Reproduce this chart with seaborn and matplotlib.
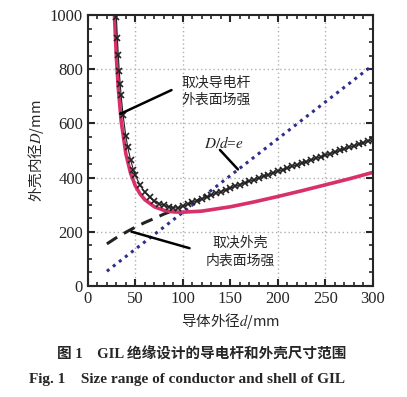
import numpy as np
import pandas as pd
import matplotlib
matplotlib.use("Agg")
import matplotlib.pyplot as plt
from matplotlib.ticker import MultipleLocator
import seaborn as sns

# 数据
red_d = [28, 30, 32, 35, 40, 45, 50, 55, 60, 70, 80, 90, 100, 120, 150, 175, 200, 225, 250, 275, 300]
red_D = [995, 841, 730, 609, 487, 415, 369, 339, 318, 292, 279, 273, 272, 276, 292, 310, 330, 351, 373, 395, 419]

blue_d = [20, 300]
blue_D = [54, 815]

dash_d = [20, 30, 40, 50, 60, 70, 80, 90]
dash_D = [155, 178, 198, 217, 234, 249, 265, 279]

cross_d = [30, 31, 32, 33, 34, 35, 37, 40, 42, 45, 48, 50, 55, 60, 65, 70, 75, 80, 85, 90, 95,
           100, 105, 110, 115, 120, 125, 130, 135, 140, 145, 150, 155, 160, 165, 170, 175, 180, 185,
           190, 195, 200, 205, 210, 215, 220, 225, 230, 235, 240, 245, 250, 255, 260, 265, 270,
           275, 280, 285, 290, 295, 300]
cross_D = [993, 917, 851, 795, 746, 703, 632, 552, 512, 464, 428, 408, 371, 345, 327, 314, 304, 297, 292, 289, 287,
           294, 301, 308, 315, 322, 328, 335, 342, 348, 355, 361, 368, 374, 380, 386, 392, 398, 405,
           411, 417, 423, 429, 435, 441, 447, 453, 459, 465, 471, 476, 482, 488, 494, 500, 506,
           511, 517, 523, 529, 534, 540]

sns.set_style("ticks")
plt.rcParams['font.family'] = ['Liberation Serif', 'Noto Sans CJK SC']
plt.rcParams['mathtext.fontset'] = 'stix'
cjk = ['Noto Sans CJK SC', 'DejaVu Sans']

fig = plt.figure(figsize=(4.07, 3.97), dpi=100)
ax = fig.add_axes([0.216, 0.280, 0.700, 0.682])

# 网格
for gx in [50, 100, 200, 250]:
    ax.axvline(gx, color='#b0b0b0', ls=(0, (1, 2)), lw=1, zorder=0)
for gy in [200, 400, 600, 800]:
    ax.axhline(gy, color='#b0b0b0', ls=(0, (1, 2)), lw=1, zorder=0)

sns.lineplot(x=blue_d, y=blue_D, ax=ax, color='#2e2e8c', lw=2.2, ls=(0, (1, 1.5)), sort=False)
sns.lineplot(x=dash_d, y=dash_D, ax=ax, color='#222222', lw=2.2, ls=(0, (4, 2.5)), sort=False)
sns.lineplot(x=red_d, y=red_D, ax=ax, color='#d8306a', lw=2.6, sort=False)
sns.lineplot(x=cross_d, y=cross_D, ax=ax, color='#222222', lw=0.8, ls='-', marker='x',
             markersize=4, markeredgewidth=1.2, markeredgecolor='#222222', sort=False)

ax.set_xlim(0, 300)
ax.set_ylim(0, 1000)
ax.xaxis.set_major_locator(MultipleLocator(50))
ax.xaxis.set_minor_locator(MultipleLocator(10))
ax.yaxis.set_major_locator(MultipleLocator(200))
ax.yaxis.set_minor_locator(MultipleLocator(50))
ax.tick_params(which='both', direction='in', top=True, right=True, labelsize=12)
ax.tick_params(which='major', length=5, width=1.5)
ax.tick_params(which='minor', length=3, width=1.2)
for s in ax.spines.values():
    s.set_linewidth(1.5)

ax.set_xlabel('导体外径$d$/mm', fontsize=10.5, family=cjk, labelpad=3)
ax.set_ylabel('外壳内径$D$/mm', fontsize=10.5, family=cjk, labelpad=3)

# 标注
ax.text(98, 720, '取决导电杆\n外表面场强', fontsize=10, family=cjk, ha='left', va='center', linespacing=1.3)
ax.plot([88, 34], [723, 635], color='black', lw=1.8)
ax.text(143, 528, '$D/d$=$e$', fontsize=11, ha='center', va='center')
ax.plot([139, 158], [502, 430], color='black', lw=1.8)
ax.text(160, 126, '取决外壳\n内表面场强', fontsize=10, family=cjk, ha='center', va='center', linespacing=1.3)
ax.plot([46, 107], [200, 139], color='black', lw=1.8)

# 图注
fig.text(0.495, 0.106, '图 1    GIL 绝缘设计的导电杆和外壳尺寸范围', fontsize=10.5,
         fontweight='bold', ha='center', va='center')
fig.text(0.46, 0.043, 'Fig. 1    Size range of conductor and shell of GIL', fontsize=11,
         fontweight='bold', ha='center', va='center')

fig.savefig('out.png', dpi=100)
